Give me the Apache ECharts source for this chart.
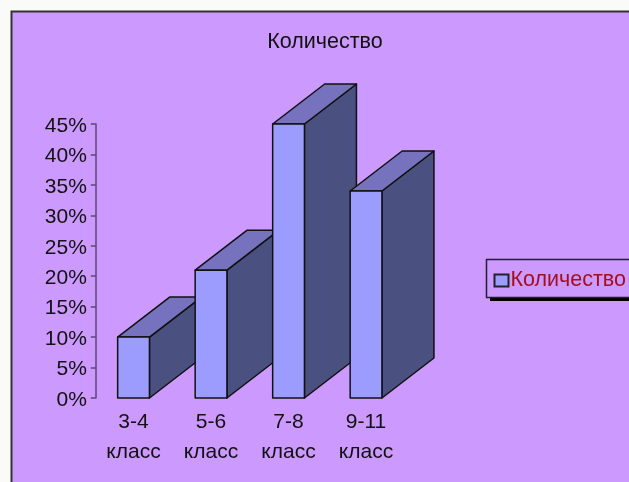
<!DOCTYPE html>
<html><head><meta charset="utf-8">
<style>html,body{margin:0;padding:0;background:#fafaf8;overflow:hidden}#c{width:629px;height:482px;filter:blur(0.6px)}</style>
<script src="https://cdn.jsdelivr.net/npm/echarts@6/dist/echarts.min.js"></script>
</head><body><div id="c"></div>
<script>
const chartTitle = 'Количество';
const categories = ['3-4\nкласс', '5-6\nкласс', '7-8\nкласс', '9-11\nкласс'];
const shares = [10, 21, 45, 34];
const font = '"Liberation Sans", Arial, sans-serif';
const depthX = 52, depthY = 40, barShare = 0.41;

const chart = echarts.init(document.getElementById('c'));
chart.setOption({
  animation: false,
  backgroundColor: '#fafaf8',
  graphic: [
    { type: 'rect', z: -10, silent: true,
      shape: { x: 11.5, y: 11.5, width: 800, height: 700 },
      style: { fill: '#cc99ff', stroke: '#333', lineWidth: 2 } },
    { type: 'rect', z: 1, silent: true,
      shape: { x: 490, y: 264, width: 200, height: 37 },
      style: { fill: '#000' } }
  ],
  title: { text: chartTitle, left: 320, top: 26, textAlign: 'center',
    textStyle: { fontFamily: font, fontSize: 21.5, fontWeight: 'normal', color: '#111' } },
  legend: { left: 486.5, top: 259.5, orient: 'vertical', padding: [10, 14, 6, 7],
    itemWidth: 14, itemHeight: 12, itemGap: 0, backgroundColor: '#cc99ff',
    borderColor: '#222', borderWidth: 1.5,
    textStyle: { fontFamily: font, fontSize: 21.5, color: '#a01020', padding: [0, 0, 0, -3] },
    data: [{ name: chartTitle, icon: 'rect' }] },
  grid: { left: 94.8, top: 124, width: 310, height: 274 },
  xAxis: { type: 'category', data: categories,
    axisLine: { show: false }, axisTick: { show: false },
    axisLabel: { interval: 0, margin: 9, lineHeight: 30, fontFamily: font, fontSize: 21, color: '#111' } },
  yAxis: { type: 'value', min: 0, max: 45, interval: 5, offset: -1,
    splitLine: { show: false },
    axisLine: { show: true, lineStyle: { color: '#5a4a78', width: 1.5 } },
    axisTick: { show: true, length: 5, lineStyle: { color: '#5a4a78', width: 1.5 } },
    axisLabel: { formatter: '{p|{value}%}', margin: 9,
      rich: { p: { padding: [4, 0, 0, 0], fontFamily: font, fontSize: 21, color: '#111' } } } },
  series: [{
    name: chartTitle, type: 'custom', coordinateSystem: 'cartesian2d',
    encode: { x: 0, y: 1 },
    itemStyle: { color: '#9c9cff', borderColor: '#222', borderWidth: 1 },
    data: shares.map((v, i) => [i, v]),
    renderItem(params, api) {
      const top = api.coord([api.value(0), api.value(1)]);
      const base = api.coord([api.value(0), 0]);
      const w = api.size([1, 0])[0] * barShare;
      const l = top[0] - w / 2, r = top[0] + w / 2;
      const edge = { stroke: '#111', lineWidth: 1.5, lineJoin: 'round' };
      return { type: 'group', children: [
        { type: 'polygon', shape: { points: [[r, top[1]], [r + depthX, top[1] - depthY], [r + depthX, base[1] - depthY], [r, base[1]]] },
          style: { fill: '#4a5080', ...edge } },
        { type: 'polygon', shape: { points: [[l, top[1]], [l + depthX, top[1] - depthY], [r + depthX, top[1] - depthY], [r, top[1]]] },
          style: { fill: '#7672bd', ...edge } },
        { type: 'rect', shape: { x: l, y: top[1], width: w, height: base[1] - top[1] },
          style: { fill: '#9c9cff', ...edge } }
      ] };
    }
  }]
});
</script></body></html>
